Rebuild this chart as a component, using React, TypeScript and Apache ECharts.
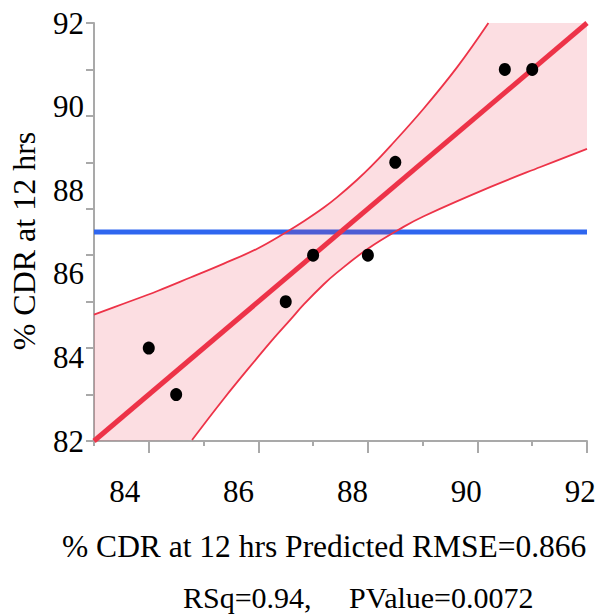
import React, { useEffect, useRef } from 'react';
import * as echarts from 'echarts';

// ---- data ----
const predicted = [84, 84.5, 86.5, 87, 88, 88.5, 90.5, 91];
const actual = [85, 84, 86, 87, 87, 89, 91, 91];

const fitX = [83, 92];
const fitY = [83, 92];

const meanX = [83, 92];
const meanY = [87.5, 87.5];

const upperX = [83, 83.55, 84.16, 84.76, 85.37, 85.98, 86.53, 86.83, 87.19, 87.44, 87.8, 88.05, 88.41, 89.02, 89.63, 90.2];
const upperY = [85.72, 85.96, 86.23, 86.52, 86.82, 87.14, 87.51, 87.73, 88.02, 88.25, 88.62, 88.9, 89.35, 90.16, 91.05, 92];

const lowerX = [84.79, 85.37, 85.98, 86.28, 86.59, 86.83, 87.19, 87.44, 88.0, 88.65, 89.02, 90.24, 91.15, 92];
const lowerY = [83.02, 83.91, 84.79, 85.21, 85.62, 85.94, 86.37, 86.63, 87.14, 87.61, 87.84, 88.47, 88.9, 89.29];

const xRange = [83, 92];
const yRange = [83, 92];
const xMajorTicks = [84, 86, 88, 90, 92];
const xTickLabels = [84, 86, 88, 90, 92];
const yLabelRange = [82, 92];

const xTitle = '% CDR at 12 hrs Predicted RMSE=0.866';
const statsText = 'RSq=0.94,\u00a0\u00a0\u00a0\u00a0\u00a0PValue=0.0072';
const yTitle = '% CDR at 12 hrs';

const FONT = 'Liberation Serif';
const AXIS = '#a9a9a9';
const RED = '#ed3348';
const BLUE = '#2f66ef';

export default function App() {
  const ref = useRef<HTMLDivElement>(null);

  useEffect(() => {
    const chart = echarts.init(ref.current!, null, { renderer: 'svg' });

    const upperPts = upperX.map((x, i) => [x, upperY[i]]);
    const lowerPts = lowerX.map((x, i) => [x, lowerY[i]]);
    const bandPolygon = [
      ...upperPts,
      [xRange[1], yRange[1]],
      ...lowerPts.slice().reverse(),
      [xRange[0], yRange[0]],
    ];

    const tickStyle = { color: AXIS, width: 2 };
    const labelFont = { fontSize: 31, fontFamily: FONT, color: '#000' };

    chart.setOption({
      animation: false,
      textStyle: { fontFamily: FONT },
      grid: { left: 94, right: 11, top: 23, bottom: 175, containLabel: false, outerBoundsMode: 'none' },
      xAxis: [
        {
          type: 'value', min: xRange[0], max: xRange[1], interval: 1,
          axisLine: { show: true, onZero: false, lineStyle: tickStyle },
          axisTick: { show: true, length: 5, lineStyle: tickStyle },
          axisLabel: { show: false },
          splitLine: { show: false },
        },
        {
          type: 'value', min: xRange[0], max: xRange[1], position: 'bottom',
          axisLine: { show: false },
          axisTick: { show: true, length: 12, customValues: xMajorTicks, lineStyle: tickStyle },
          axisLabel: { show: false },
          splitLine: { show: false },
        },
        {
          type: 'value', min: 83.46, max: 92.12, position: 'bottom',
          axisLine: { show: false },
          axisTick: { show: false },
          axisLabel: { show: true, customValues: xTickLabels, margin: 35, ...labelFont },
          splitLine: { show: false },
        },
      ],
      yAxis: [
        {
          type: 'value', min: yRange[0], max: yRange[1], interval: 1,
          axisLine: { show: true, onZero: false, lineStyle: tickStyle },
          axisTick: { show: true, length: 8, lineStyle: tickStyle },
          axisLabel: { show: false },
          splitLine: { show: false },
        },
        {
          type: 'value', min: yLabelRange[0], max: yLabelRange[1], interval: 2, position: 'left',
          axisLine: { show: false },
          axisTick: { show: false },
          axisLabel: { show: true, margin: 10, ...labelFont },
          splitLine: { show: false },
        },
      ],
      series: [
        {
          type: 'line', name: 'mean', xAxisIndex: 0, yAxisIndex: 0,
          data: meanX.map((x, i) => [x, meanY[i]]),
          showSymbol: false, symbol: 'none',
          lineStyle: { color: BLUE, width: 5 },
          z: 2,
        },
        {
          type: 'custom', name: 'band', xAxisIndex: 0, yAxisIndex: 0,
          data: bandPolygon,
          renderItem: (params: any, api: any) => {
            if (params.dataIndex !== 0) return null;
            const pts = bandPolygon.map((p) => api.coord(p));
            return {
              type: 'polygon',
              shape: { points: pts },
              style: { fill: 'rgba(237, 51, 72, 0.16)', stroke: null },
            };
          },
          z: 3,
        },
        {
          type: 'line', name: 'upper', xAxisIndex: 0, yAxisIndex: 0,
          data: upperPts, smooth: 0.4,
          showSymbol: false, symbol: 'none',
          lineStyle: { color: RED, width: 1.8 },
          z: 4,
        },
        {
          type: 'line', name: 'lower', xAxisIndex: 0, yAxisIndex: 0,
          data: lowerPts, smooth: 0.4,
          showSymbol: false, symbol: 'none',
          lineStyle: { color: RED, width: 1.8 },
          z: 4,
        },
        {
          type: 'line', name: 'fit', xAxisIndex: 0, yAxisIndex: 0,
          data: fitX.map((x, i) => [x, fitY[i]]),
          showSymbol: false, symbol: 'none',
          lineStyle: { color: RED, width: 5 },
          z: 5,
        },
        {
          type: 'scatter', name: 'points', xAxisIndex: 0, yAxisIndex: 0,
          data: predicted.map((x, i) => [x, actual[i]]),
          symbol: 'circle', symbolSize: [12, 13],
          itemStyle: { color: '#000', opacity: 1 },
          z: 6,
        },
      ],
      graphic: [
        {
          type: 'text', left: 62, top: 530,
          style: { text: xTitle, fontSize: 31.5, fontFamily: FONT, fill: '#000' },
        },
        {
          type: 'text', left: 183, top: 582,
          style: { text: statsText, fontSize: 30, fontFamily: FONT, fill: '#000' },
        },
        {
          type: 'text', x: 24, y: 241, rotation: Math.PI / 2,
          style: { text: yTitle, fontSize: 32, fontFamily: FONT, fill: '#000', align: 'center', verticalAlign: 'middle' },
        },
      ],
    });

    return () => chart.dispose();
  }, []);

  return <div ref={ref} style={{ position: 'absolute', left: 0, top: 0, width: 598, height: 616 }} />;
}
